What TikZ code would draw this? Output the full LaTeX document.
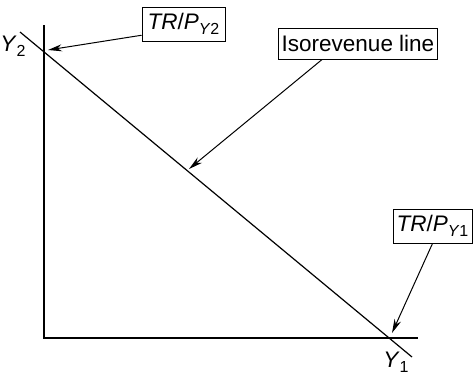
\documentclass[tikz,border=0pt]{standalone}
\usepackage{fontspec}
\setmainfont{Liberation Sans}
\usetikzlibrary{positioning,arrows.meta}

\newcommand{\lowsub}[1]{\raisebox{-5pt}{\fontsize{16}{16}\selectfont #1}}

\begin{document}
\begin{tikzpicture}[x=1pt,y=-1pt,
    font=\fontsize{22.5}{26}\selectfont,
    axis/.style={line width=1.2pt},
    lbox/.style={draw, line width=1pt, inner xsep=3pt, inner ysep=2pt, minimum height=31pt},
    pointer/.style={-{Stealth[length=14pt,width=7pt]}, line width=1pt}]
            \useasboundingbox (0,0) rectangle (474,378);

            % axes
            \coordinate (o) at (44,338);
            \coordinate (ytop) at (44,25);
            \coordinate (xend) at (418,338);
            \draw[axis] (ytop) -- (o) -- (xend);

            % isorevenue line
            \coordinate (a) at (20,32);
            \coordinate (b) at (412,357);
            \draw[axis] (a) -- (b);

            \node (y2) at (13,46) {\textit{Y}\lowsub{2}};
            \node (y1) at (396,362) {\textit{Y}\lowsub{1}};

            \node (trp2) [lbox, minimum width=83pt, minimum height=34pt] at (183.5,24) {\textit{TR}/\textit{P}\lowsub{\textit{Y}2}};
            \node (iso) [lbox, minimum width=155pt] at (358,43.5) {Isorevenue line};
            \node (trp1) [lbox, minimum width=79pt, minimum height=34pt] at (432.5,226) {\textit{TR}/\textit{P}\lowsub{\textit{Y}1}};

            \coordinate (tip2) at (48,50);
            \coordinate (tipiso) at (189,169);
            \coordinate (tip1) at (392,333);

            \draw[pointer] (trp2.195) -- (tip2);
            \draw[pointer] (iso.204) -- (tipiso);
            \draw[pointer] (trp1.south) -- (tip1);
        \end{tikzpicture}
\end{document}
